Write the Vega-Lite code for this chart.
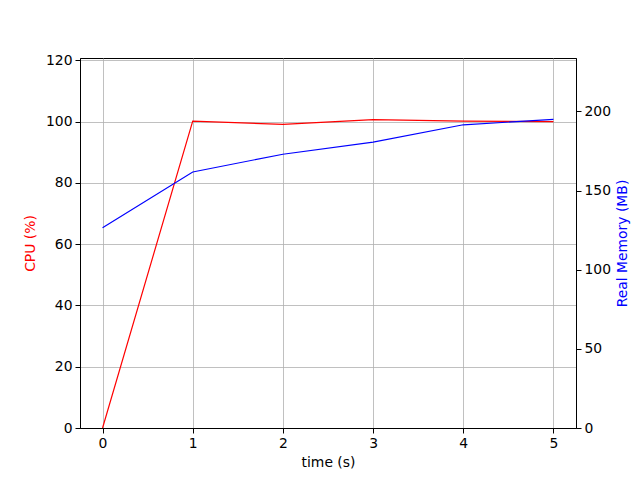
{
  "$schema": "https://vega.github.io/schema/vega-lite/v6.json",
  "autosize": "none",
  "width": 496,
  "height": 370,
  "padding": {"left": 80, "top": 58, "right": 64, "bottom": 52},
  "background": "white",
  "config": {
    "font": "DejaVu Sans",
    "view": {"stroke": "black", "strokeWidth": 1},
    "axis": {
      "labelFont": "DejaVu Sans",
      "titleFont": "DejaVu Sans",
      "labelFontSize": 13.9,
      "titleFontSize": 13.9,
      "titleFontWeight": "normal",
      "labelColor": "black",
      "domainColor": "black",
      "tickColor": "black",
      "tickSize": 5,
      "labelPadding": 3,
      "gridColor": "#b0b0b0",
      "gridWidth": 0.8,
      "gridOpacity": 1
    }
  },
  "data": {
    "values": [
      {"t": 0, "cpu": 0, "mem": 126.6},
      {"t": 1, "cpu": 100.2, "mem": 161.8},
      {"t": 2, "cpu": 99.1, "mem": 173.0},
      {"t": 3, "cpu": 100.7, "mem": 180.6},
      {"t": 4, "cpu": 100.2, "mem": 191.6},
      {"t": 5, "cpu": 100.0, "mem": 195.0}
    ]
  },
  "encoding": {
    "x": {
      "field": "t",
      "type": "quantitative",
      "scale": {"domain": [-0.25, 5.25], "nice": false, "zero": false},
      "axis": {"title": "time (s)", "values": [0, 1, 2, 3, 4, 5], "grid": true, "titlePadding": 6, "titleColor": "black"}
    }
  },
  "layer": [
    {
      "mark": {"type": "line", "color": "#ff0000", "strokeWidth": 1.2},
      "encoding": {
        "y": {
          "field": "cpu",
          "type": "quantitative",
          "scale": {"domain": [0, 120.8], "nice": false},
          "axis": {"title": "CPU (%)", "titleColor": "#ff0000", "orient": "left", "values": [0, 20, 40, 60, 80, 100, 120], "grid": true, "titlePadding": 8}
        }
      }
    },
    {
      "mark": {"type": "line", "color": "#0000ff", "strokeWidth": 1.2},
      "encoding": {
        "y": {
          "field": "mem",
          "type": "quantitative",
          "scale": {"domain": [0, 233.8], "nice": false},
          "axis": {"title": "Real Memory (MB)", "titleColor": "#0000ff", "orient": "right", "values": [0, 50, 100, 150, 200], "grid": false, "titlePadding": 5, "titleAngle": 270, "titleBaseline": "top", "titleAlign": "center"}
        }
      }
    }
  ],
  "resolve": {"scale": {"y": "independent"}}
}
